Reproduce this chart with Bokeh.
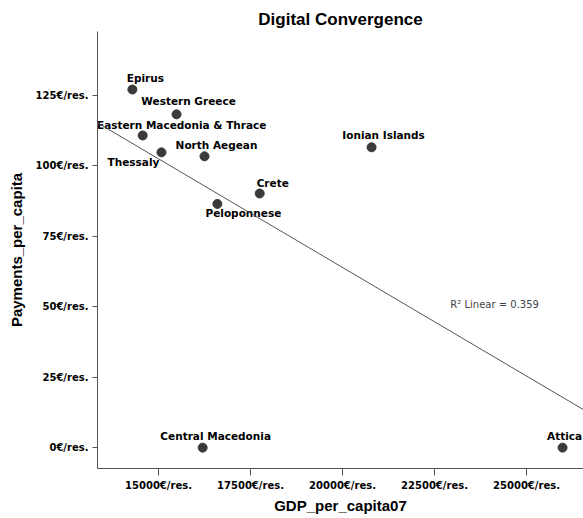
import numpy as np
from bokeh.plotting import figure
from bokeh.models import (ColumnDataSource, FixedTicker, PrintfTickFormatter,
                          Range1d, Slope, Label)
from bokeh.embed import file_html
from bokeh.resources import INLINE
from bokeh.core.properties import value

# ---- data ----
regions = ["Epirus", "Western Greece", "Eastern Macedonia & Thrace", "Thessaly",
           "North Aegean", "Crete", "Peloponnese", "Ionian Islands",
           "Central Macedonia", "Attica"]
gdp_per_capita07 = [14290, 15490, 14570, 15080, 16250, 17750, 16600, 20790, 16200, 25980]
payments_per_capita = [127.1, 118.3, 110.8, 104.8, 103.4, 90.2, 86.5, 106.6, 0.0, 0.0]
x_ticks = [15000, 17500, 20000, 22500, 25000]
y_ticks = [0, 25, 50, 75, 100, 125]
r2_text = "R\u00b2 Linear = 0.359"

# label placement (screen pixel offsets, styling only)
label_dx = [13, 12, 39, -28, 12, 13, 26, 12, 13, 2]
label_dy = [-12, -13, -10, 10, -11, -11, 9, -12, -12, -12]

src = ColumnDataSource(dict(x=gdp_per_capita07, y=payments_per_capita, name=regions,
                            dx=label_dx, dy=label_dy))

p = figure(width=583, height=518, output_backend="svg", toolbar_location=None,
           x_range=Range1d(13342, 26549), y_range=Range1d(-7.4, 147.7),
           min_border_left=97, min_border_right=0, min_border_top=31, min_border_bottom=50,
           title="Digital Convergence")
p.title.align = "center"
p.title.text_font = "Liberation Sans"
p.title.text_font_size = "17px"
p.title.text_font_style = "bold"
p.title.text_color = "black"
p.title.standoff = 5

p.outline_line_color = None
p.xgrid.grid_line_color = None
p.ygrid.grid_line_color = None
p.background_fill_color = "white"
p.border_fill_color = "white"

for ax in (p.xaxis[0], p.yaxis[0]):
    ax.axis_line_color = "#555555"
    ax.major_tick_line_color = "#555555"
    ax.minor_tick_line_color = None
    ax.major_tick_in = 0
    ax.major_label_text_font = "DejaVu Sans"
    ax.major_label_text_font_style = "bold"
    ax.major_label_text_font_size = "10px"
    ax.major_label_text_color = "black"
    ax.axis_label_text_font = "Liberation Sans"
    ax.axis_label_text_font_style = "bold"
    ax.axis_label_text_font_size = "15px"
    ax.axis_label_text_color = "black"

p.xaxis.ticker = FixedTicker(ticks=x_ticks)
p.yaxis.ticker = FixedTicker(ticks=y_ticks)
p.xaxis.formatter = PrintfTickFormatter(format="%d\u20ac/res.")
p.yaxis.formatter = PrintfTickFormatter(format="%d\u20ac/res.")
p.xaxis.axis_label = "GDP_per_capita07"
p.yaxis.axis_label = "Payments_per_capita"
p.xaxis.major_tick_out = 7
p.xaxis.major_label_standoff = 4
p.xaxis.axis_label_standoff = 3
p.yaxis.major_tick_out = 5
p.yaxis.major_label_standoff = 4
p.yaxis.axis_label_standoff = 8

# regression line fitted to the points
slope, intercept = np.polyfit(gdp_per_capita07, payments_per_capita, 1)
p.add_layout(Slope(gradient=slope, y_intercept=intercept, line_color="#555555", line_width=1))

p.scatter("x", "y", source=src, size=9, fill_color="#3a3a3a", line_color="#3a3a3a")
p.text("x", "y", text="name", source=src, x_offset="dx", y_offset="dy",
       text_align="center", text_baseline="middle",
       text_font=value("DejaVu Sans"), text_font_style="bold",
       text_font_size="10.5px", text_color="black")

p.add_layout(Label(x=22930, y=50.7, text=r2_text, text_font="DejaVu Sans",
                   text_font_size="10px", text_color="#444444",
                   text_baseline="middle", text_align="left"))

open("out.html", "w").write(file_html(p, INLINE))
